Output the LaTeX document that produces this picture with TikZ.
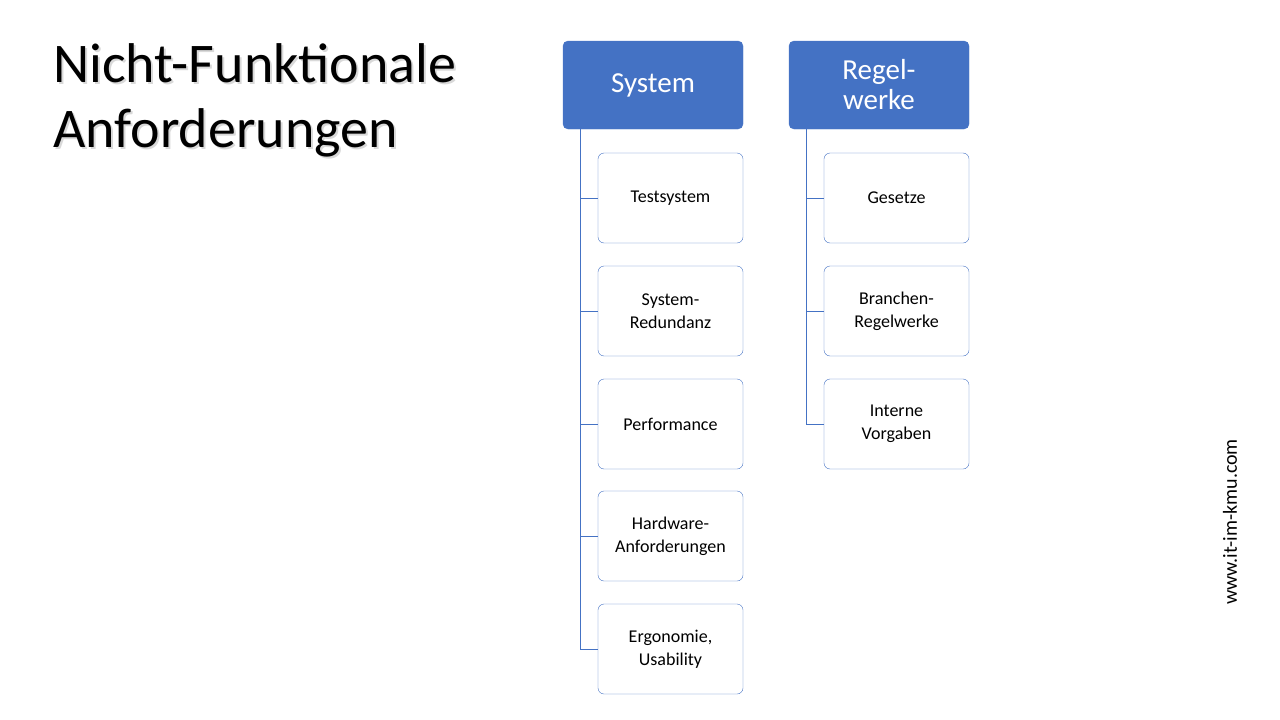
\documentclass[tikz,border=0pt]{standalone}
\usepackage{fontspec}
\setmainfont{Carlito}
\definecolor{hdr}{HTML}{4472C4}
\begin{document}
\begin{tikzpicture}[x=1pt,y=-1pt,
  hdrbox/.style={fill=hdr,draw=hdr,rounded corners=5pt,minimum width=180pt,minimum height=88pt,text=white,font=\fontsize{29}{30}\selectfont,align=center,inner sep=0pt},
  kid/.style={draw=hdr,fill=white,rounded corners=6pt,minimum width=145pt,minimum height=90pt,font=\fontsize{18}{23}\selectfont,align=center,inner sep=0pt},
  conn/.style={draw=hdr,line width=0.8pt}]
\useasboundingbox (0,0) rectangle (1280,720);
\node[anchor=north west,align=left,font=\fontsize{56}{65}\selectfont,text=black!15,inner sep=0pt] at (55,45) {Nicht-Funktionale\\Anforderungen};
\node[anchor=north west,align=left,font=\fontsize{56}{65}\selectfont,inner sep=0pt] (title) at (53,43) {Nicht-Funktionale\\Anforderungen};
\node[hdrbox] (sys) at (653,85) {System};
\node[hdrbox] (reg) at (879,85) {Regel-\\werke};
\foreach \n/\y/\t in {a/198/Testsystem,b/311/{System-\\Redundanz},c/424/Performance,d/536/{Hardware-\\Anforderungen},e/649/{Ergonomie,\\Usability}}{
  \node[kid] (s\n) at (670.5,\y) {\t};
}
\foreach \n/\y/\t in {a/198/Gesetze,b/311/{Branchen-\\Regelwerke},c/424/{Interne\\Vorgaben}}{
  \node[kid] (r\n) at (896.5,\y) {\t};
}
\coordinate (sx) at (580,129);
\coordinate (rx) at (806,129);
\draw[conn] (sx) |- (se.west);
\foreach \n in {a,b,c,d}{\draw[conn] (sx |- s\n.west) -- (s\n.west);}
\draw[conn] (rx) |- (rc.west);
\foreach \n in {a,b}{\draw[conn] (rx |- r\n.west) -- (r\n.west);}
\node[rotate=90,font=\fontsize{20}{20}\selectfont] (www) at (1230,522) {www.it-im-kmu.com};
\end{tikzpicture}
\end{document}
